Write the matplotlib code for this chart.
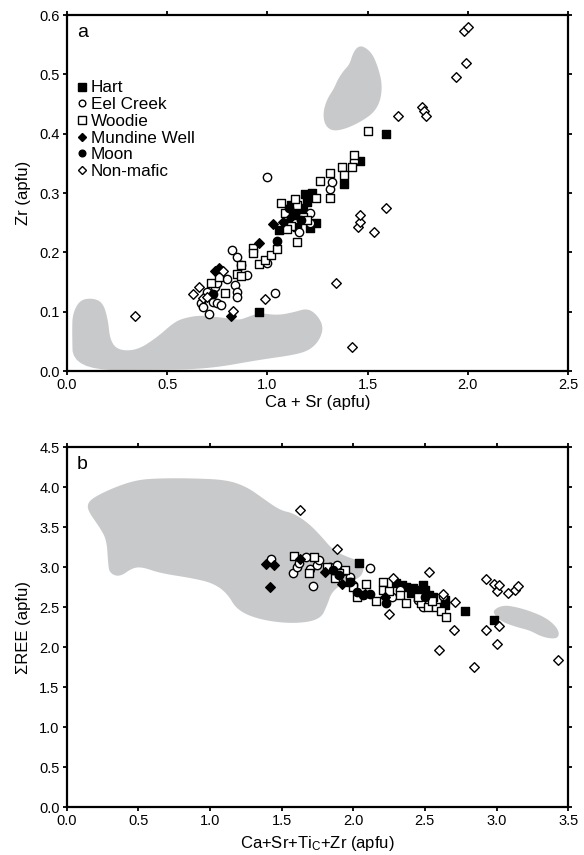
import numpy as np
import matplotlib.pyplot as plt
from matplotlib.lines import Line2D

plt.rcParams['font.family'] = ['Liberation Sans', 'DejaVu Sans']
plt.rcParams['mathtext.default'] = 'regular'

# ---- panel a : Zr vs Ca+Sr ----
hart_a = [(0.96, 0.10), (1.06, 0.237), (1.10, 0.25), (1.13, 0.263), (1.15, 0.243),
          (1.16, 0.27), (1.18, 0.274), (1.19, 0.298), (1.20, 0.285), (1.21, 0.241),
          (1.22, 0.30), (1.24, 0.25), (1.12, 0.28), (1.17, 0.26), (1.38, 0.316),
          (1.46, 0.354), (1.59, 0.40)]
eel_a = [(0.67, 0.115), (0.68, 0.108), (0.70, 0.133), (0.71, 0.096), (0.73, 0.116),
         (0.74, 0.142), (0.75, 0.148), (0.75, 0.114), (0.77, 0.111), (0.80, 0.155),
         (0.825, 0.204), (0.84, 0.145), (0.85, 0.193), (0.85, 0.133), (0.85, 0.125),
         (0.87, 0.179), (0.90, 0.162), (1.00, 0.182), (1.00, 0.327), (1.04, 0.131),
         (1.21, 0.266), (1.21, 0.249), (1.31, 0.307), (1.32, 0.319), (1.43, 0.354),
         (1.16, 0.235)]
woodie_a = [(0.72, 0.148), (0.76, 0.158), (0.79, 0.132), (0.85, 0.164), (0.87, 0.16),
            (0.87, 0.179), (0.93, 0.207), (0.93, 0.199), (0.96, 0.18), (0.99, 0.187),
            (1.02, 0.196), (1.05, 0.206), (1.07, 0.283), (1.09, 0.266), (1.12, 0.245),
            (1.15, 0.28), (1.15, 0.217), (1.18, 0.26), (1.14, 0.29), (1.24, 0.292),
            (1.26, 0.32), (1.31, 0.334), (1.31, 0.292), (1.37, 0.344), (1.38, 0.33),
            (1.42, 0.344), (1.43, 0.364), (1.50, 0.405), (1.20, 0.255), (1.10, 0.24)]
mundine_a = [(0.74, 0.168), (0.76, 0.174), (0.82, 0.093), (0.96, 0.215), (1.03, 0.248),
             (1.08, 0.251), (1.12, 0.26)]
moon_a = [(0.73, 0.13), (1.05, 0.22), (1.11, 0.275), (1.14, 0.265), (1.17, 0.255)]
nonmafic_a = [(0.34, 0.093), (0.63, 0.13), (0.66, 0.142), (0.68, 0.123), (0.70, 0.125),
              (0.78, 0.168), (0.83, 0.101), (0.99, 0.122), (1.34, 0.148), (1.42, 0.04),
              (1.45, 0.243), (1.46, 0.251), (1.46, 0.263), (1.53, 0.234), (1.59, 0.275),
              (1.65, 0.43), (1.77, 0.445), (1.78, 0.438), (1.79, 0.43), (1.94, 0.496),
              (1.99, 0.519), (1.98, 0.573), (2.0, 0.58)]

field_a1 = [(0.03, 0.098), (0.065, 0.12), (0.13, 0.123), (0.18, 0.115), (0.205, 0.086),
            (0.215, 0.052), (0.255, 0.035), (0.35, 0.035), (0.45, 0.057), (0.53, 0.081),
            (0.58, 0.089), (0.66, 0.094), (0.75, 0.091), (0.80, 0.089), (0.86, 0.086),
            (0.90, 0.091), (0.96, 0.098), (1.05, 0.094), (1.13, 0.099), (1.20, 0.106),
            (1.25, 0.094), (1.28, 0.074), (1.26, 0.052), (1.21, 0.035), (1.13, 0.027),
            (0.96, 0.019), (0.71, 0.004), (0.46, 0.002), (0.03, 0.002), (0.025, 0.074)]
field_a2 = [(1.477, 0.548), (1.522, 0.536), (1.552, 0.512), (1.572, 0.485), (1.566, 0.458),
            (1.535, 0.437), (1.475, 0.422), (1.397, 0.409), (1.327, 0.404), (1.287, 0.414),
            (1.277, 0.435), (1.297, 0.458), (1.332, 0.476), (1.352, 0.492), (1.380, 0.506),
            (1.410, 0.517), (1.425, 0.534), (1.447, 0.546)]

# ---- panel b : sum REE vs Ca+Sr+Ti+Zr ----
hart_b = [(2.04, 3.05), (2.30, 2.80), (2.34, 2.78), (2.37, 2.75), (2.42, 2.74), (2.45, 2.71),
          (2.49, 2.78), (2.50, 2.71), (2.53, 2.65), (2.64, 2.59), (2.64, 2.52), (2.78, 2.45),
          (2.98, 2.34), (2.40, 2.68), (2.56, 2.62)]
eel_b = [(1.43, 3.10), (1.58, 2.93), (1.61, 3.0), (1.62, 3.05), (1.67, 3.12), (1.70, 2.97),
         (1.72, 2.76), (1.75, 3.02), (1.76, 3.09), (1.84, 3.0), (1.89, 3.02), (1.93, 2.95),
         (1.98, 2.87), (2.00, 2.78), (2.12, 2.99), (2.33, 2.71), (2.45, 2.59), (2.49, 2.50),
         (2.63, 2.64), (2.27, 2.62)]
woodie_b = [(1.59, 3.14), (1.69, 2.92), (1.73, 3.12), (1.82, 3.0), (1.87, 2.86), (1.94, 2.96),
            (1.98, 2.81), (2.03, 2.63), (2.09, 2.79), (2.16, 2.58), (2.21, 2.81), (2.21, 2.71),
            (2.25, 2.70), (2.33, 2.65), (2.37, 2.55), (2.47, 2.55), (2.52, 2.50), (2.58, 2.50),
            (2.61, 2.45), (2.65, 2.38), (1.90, 2.92), (2.00, 2.75), (2.45, 2.62), (2.55, 2.58)]
mundine_b = [(1.39, 3.04), (1.45, 3.03), (1.42, 2.75), (1.63, 3.10), (1.80, 2.94), (1.92, 2.79),
             (2.08, 2.66), (2.22, 2.63)]
moon_b = [(1.86, 2.96), (1.98, 2.81), (2.03, 2.69), (2.07, 2.65), (2.12, 2.66), (2.23, 2.55),
          (2.50, 2.62), (1.90, 2.90)]
nonmafic_b = [(1.63, 3.71), (1.89, 3.22), (2.25, 2.41), (2.28, 2.86), (2.53, 2.94), (2.60, 1.96),
              (2.63, 2.66), (2.70, 2.21), (2.71, 2.56), (2.84, 1.75), (2.93, 2.85), (2.93, 2.21),
              (2.98, 2.79), (3.0, 2.70), (3.0, 2.04), (3.02, 2.78), (3.02, 2.26), (3.08, 2.68),
              (3.13, 2.71), (3.15, 2.76), (3.43, 1.84)]

field_b1 = [(0.143, 3.775), (0.178, 3.86), (0.324, 3.99), (0.49, 4.09), (0.65, 4.11),
            (0.88, 4.11), (1.12, 4.09), (1.26, 4.0), (1.37, 3.86), (1.49, 3.71), (1.58, 3.675),
            (1.68, 3.56), (1.77, 3.4), (1.86, 3.21), (1.96, 3.125), (2.05, 3.075), (2.08, 3.0),
            (2.05, 2.86), (1.94, 2.81), (1.85, 2.69), (1.82, 2.53), (1.77, 2.34), (1.58, 2.29),
            (1.35, 2.34), (1.19, 2.46), (1.12, 2.675), (1.02, 2.8), (0.88, 2.86), (0.65, 2.925),
            (0.53, 3.0), (0.46, 2.99), (0.37, 2.875), (0.30, 2.925), (0.29, 3.05), (0.28, 3.34),
            (0.23, 3.5), (0.16, 3.675)]
field_b2 = [(2.975, 2.46), (3.045, 2.525), (3.14, 2.5), (3.25, 2.44), (3.35, 2.36), (3.42, 2.25),
            (3.44, 2.15), (3.41, 2.1), (3.32, 2.125), (3.23, 2.21), (3.14, 2.25), (3.045, 2.31),
            (2.99, 2.39)]

labels = ['Hart', 'Eel Creek', 'Woodie', 'Mundine Well', 'Moon', 'Non-mafic']
styles = [('s', 'k', 40), ('o', 'white', 36), ('s', 'white', 40),
          ('D', 'k', 24), ('o', 'k', 36), ('D', 'white', 24)]
grey = '#c8c9cb'


def smooth(pts, n=3):
    # chaikin corner cutting for closed outlines
    p = np.array(pts, dtype=float)
    for _ in range(n):
        q = np.roll(p, -1, axis=0)
        p = np.vstack([0.75 * p + 0.25 * q, 0.25 * p + 0.75 * q]).reshape(2, -1, 2).transpose(1, 0, 2).reshape(-1, 2)
    return p


def panel(ax, groups, fields):
    for f in fields:
        s = smooth(f)
        ax.fill(s[:, 0], s[:, 1], color=grey, lw=0, zorder=1)
    for data, (m, fc, sz) in zip(groups, styles):
        d = np.array(data)
        ax.scatter(d[:, 0], d[:, 1], marker=m, s=sz, facecolor=fc, edgecolor='k',
                   linewidth=1.0, zorder=3)
    for sp in ax.spines.values():
        sp.set_linewidth(1.6)
    ax.tick_params(direction='out', length=3, width=1.3, top=True, right=True,
                   labelsize=10.5, pad=2)


fig = plt.figure(figsize=(5.84, 8.55), dpi=100)
ax1 = fig.add_axes([0.1147, 0.566, 0.858, 0.4164])
ax2 = fig.add_axes([0.1139, 0.0561, 0.859, 0.421])

panel(ax1, [hart_a, eel_a, woodie_a, mundine_a, moon_a, nonmafic_a], [field_a1, field_a2])
ax1.set_xlim(0, 2.5)
ax1.set_ylim(0, 0.6)
ax1.set_xticks(np.arange(0, 2.51, 0.5))
ax1.set_yticks(np.arange(0, 0.61, 0.1))
ax1.xaxis.set_major_formatter('{x:.1f}')
ax1.yaxis.set_major_formatter('{x:.1f}')
ax1.set_xlabel('Ca + Sr (apfu)', fontsize=12, labelpad=2)
ax1.set_ylabel('Zr (apfu)', fontsize=12, labelpad=6)
ax1.text(0.02, 0.975, 'a', transform=ax1.transAxes, fontsize=14, va='top')

handles = [Line2D([], [], ls='none', marker=m, markersize=np.sqrt(sz) * 0.8,
                  markerfacecolor=fc, markeredgecolor='k', markeredgewidth=1.0)
           for m, fc, sz in styles]
ax1.legend(handles, labels, loc='upper left', bbox_to_anchor=(0.0, 0.845),
           frameon=False, fontsize=12.3, handlelength=0.6, handletextpad=0.2,
           labelspacing=0.1, borderaxespad=0.2)

panel(ax2, [hart_b, eel_b, woodie_b, mundine_b, moon_b, nonmafic_b], [field_b1, field_b2])
ax2.set_xlim(0, 3.5)
ax2.set_ylim(0, 4.5)
ax2.set_xticks(np.arange(0, 3.51, 0.5))
ax2.set_yticks(np.arange(0, 4.51, 0.5))
ax2.xaxis.set_major_formatter('{x:.1f}')
ax2.yaxis.set_major_formatter('{x:.1f}')
ax2.set_xlabel(r'Ca+Sr+Ti$_{C}$+Zr (apfu)', fontsize=12, labelpad=4)
ax2.set_ylabel('\u03a3REE (apfu)', fontsize=12, labelpad=6)
ax2.text(0.02, 0.975, 'b', transform=ax2.transAxes, fontsize=14, va='top')

fig.savefig('out.png', dpi=100)
